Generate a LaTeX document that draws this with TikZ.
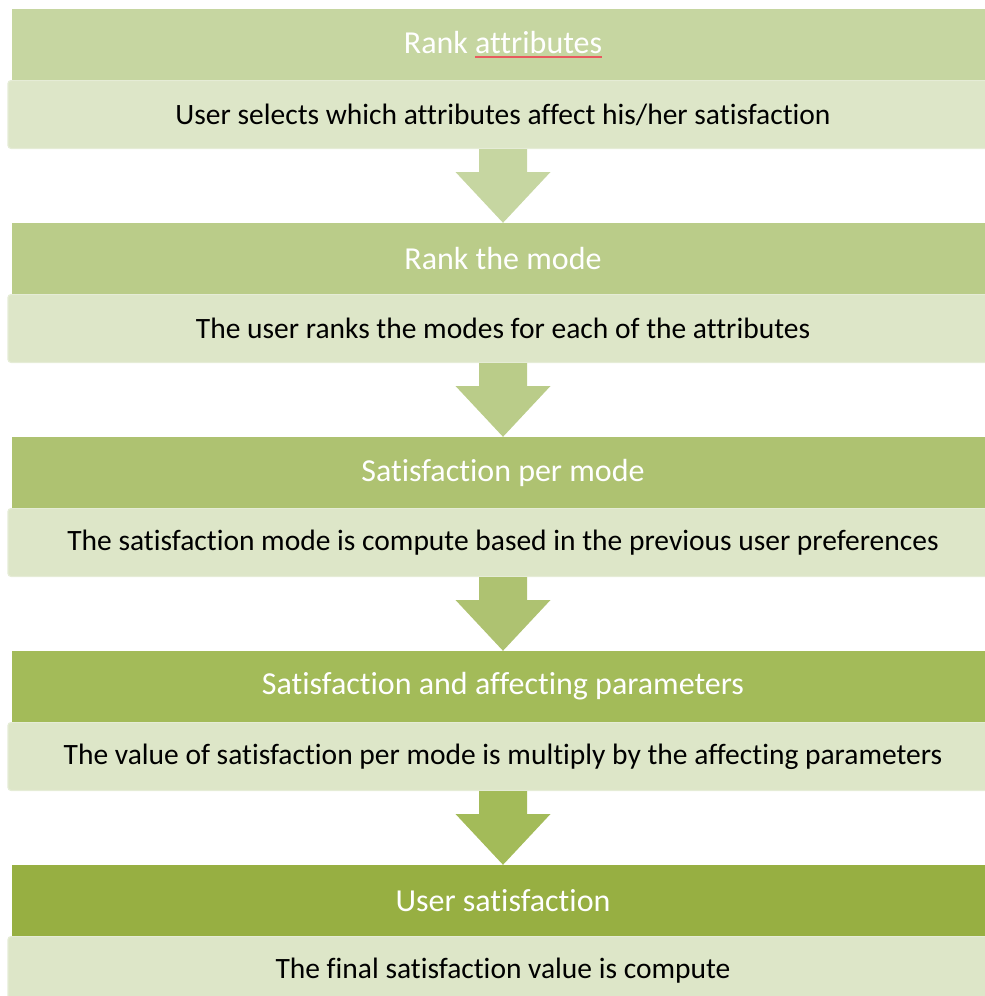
\documentclass[tikz,border=0pt]{standalone}
\usepackage{fontspec}
\setmainfont{Carlito}[Ligatures=NoCommon]
\usetikzlibrary{calc}

\definecolor{stepA}{RGB}{198,214,161}
\definecolor{stepB}{RGB}{186,204,137}
\definecolor{stepC}{RGB}{174,194,113}
\definecolor{stepD}{RGB}{163,187,89}
\definecolor{stepE}{RGB}{151,175,66}
\definecolor{descfill}{RGB}{221,230,200}
\definecolor{descedge}{RGB}{229,236,214}
\definecolor{spellred}{RGB}{232,90,95}

% thin red line under a word
\newcommand{\spellmark}[1]{\setbox0\hbox{#1}%
  \rlap{\textcolor{spellred}{\rule[-4.5pt]{\wd0}{1.6pt}}}\box0}

\tikzset{
  title/.style={text=white, minimum width=982pt, minimum height=71pt,
    inner sep=0pt, font=\fontsize{32}{36}\selectfont},
  desc/.style={fill=descfill, draw=descedge, line width=1.2pt, rounded corners=3pt,
    text=black, minimum width=990pt, minimum height=67.8pt, inner sep=0pt,
    font=\fontsize{29.5}{34}\selectfont}
}

% block arrow from the bottom of one step to the top of the next
\newcommand{\steparrow}[3]{%
  \fill[#3] ($(#1.south)+(-24,0)$) -- ++(48,0) -- ++(0,23) -- ++(23.5,0)
    -- (#2.north) -- ($(#1.south)+(-47.5,23)$) -- ++(23.5,0) -- cycle;}

\begin{document}
\begin{tikzpicture}[x=1pt,y=-1pt]
\useasboundingbox (0,0) rectangle (985,996);
\clip (0,0) rectangle (985,996);

\node[title,fill=stepA] (t1) at (503,44.5) {Rank \spellmark{attributes}};%first step
\node[desc] (d1) at (503,114.5) {User selects which attributes affect his/her satisfaction};

\node[title,fill=stepB] (t2) at (503,258.5) {Rank the mode};%second step
\node[desc] (d2) at (503,328.5) {The user ranks the modes for each of the attributes};

\node[title,fill=stepC] (t3) at (503,472.5) {Satisfaction per mode};%third step
\node[desc] (d3) at (503,542.5) {The satisfaction mode is compute based in the previous user preferences};

\node[title,fill=stepD] (t4) at (503,686.5) {Satisfaction and affecting parameters};%fourth step
\node[desc] (d4) at (503,756.5) {The value of satisfaction per mode is multiply by the affecting parameters};

\node[title,fill=stepE] (t5) at (503,900.5) {User satisfaction};%last step
\node[desc] (d5) at (503,970.5) {The final satisfaction value is compute};

\steparrow{d1}{t2}{stepA}
\steparrow{d2}{t3}{stepB}
\steparrow{d3}{t4}{stepC}
\steparrow{d4}{t5}{stepD}

\end{tikzpicture}
\end{document}
